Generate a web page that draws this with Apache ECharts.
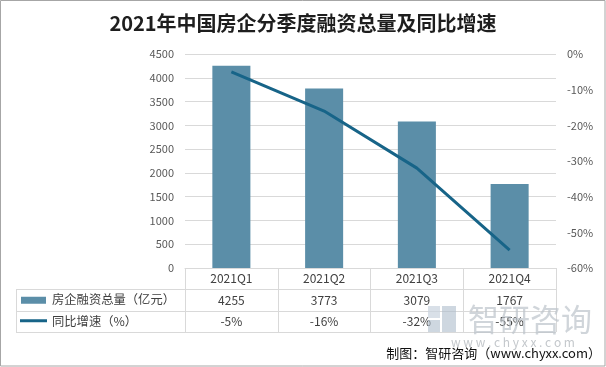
<!DOCTYPE html>
<html><head><meta charset="utf-8">
<script src="https://cdn.jsdelivr.net/npm/echarts@6/dist/echarts.min.js"></script>
<style>html,body{margin:0;padding:0;background:#fff}#c{width:606px;height:367px}</style>
</head><body><div id="c"></div>
<script>
var categories = ['2021Q1', '2021Q2', '2021Q3', '2021Q4'];
var financing = [4255, 3773, 3079, 1767];
var growth = [-5, -16, -32, -55];
var seriesNames = ['房企融资总量（亿元）', '同比增速（%）'];
var titleText = '2021年中国房企分季度融资总量及同比增速';
var footerText = '制图：智研咨询（www.chyxx.com）';

var FONT = '"Noto Sans CJK SC", "Noto Sans", sans-serif';
var BAR = '#5b8ea8', LINE = '#176488', GRID = '#d9d9d9', TXT = '#404040';

var chart = echarts.init(document.getElementById('c'), null, {renderer: 'canvas'});
var option = {
  animation: false,
  backgroundColor: '#fff',
  textStyle: {fontFamily: FONT},
  title: {text: titleText, left: 'center', top: 8,
    textStyle: {fontSize: 20, fontWeight: 'bold', color: '#1e1e1e', fontFamily: FONT}},
  grid: {left: 185, right: 50, top: 54, bottom: 99, containLabel: false},
  xAxis: {
    type: 'category', data: categories, boundaryGap: true,
    axisLine: {lineStyle: {color: GRID}},
    axisTick: {show: true, length: 64, lineStyle: {color: GRID}, interval: 0},
    axisLabel: {
      margin: 0, interval: 0, color: TXT, fontSize: 12, lineHeight: 21.5, fontFamily: FONT,
      formatter: function (v, i) { return v + '\n' + financing[i] + '\n' + growth[i] + '%'; }
    }
  },
  yAxis: [
    {type: 'value', min: 0, max: 4500, interval: 500,
      axisLine: {show: false}, axisTick: {show: false},
      axisLabel: {color: '#595959', fontSize: 11, margin: 11, fontFamily: FONT,
        formatter: function (v) { return String(v); }},
      splitLine: {lineStyle: {color: GRID}}},
    {type: 'value', min: -60, max: 0, interval: 10, position: 'right',
      axisLine: {show: false}, axisTick: {show: false},
      axisLabel: {color: '#595959', fontSize: 11, margin: 11, fontFamily: FONT,
        formatter: function (v) { return v + '%'; }},
      splitLine: {show: false}}
  ],
  series: [
    {name: seriesNames[0], type: 'bar', data: financing, barWidth: '41%',
      itemStyle: {color: BAR}},
    {name: seriesNames[1], type: 'line', yAxisIndex: 1, data: growth,
      symbol: 'none', lineStyle: {color: LINE, width: 3}, itemStyle: {color: LINE}}
  ]
};
chart.setOption(option);

// table frame built from axis positions
var xL = chart.convertToPixel({xAxisIndex: 0}, categories[0]);
var xR = chart.convertToPixel({xAxisIndex: 0}, categories[categories.length - 1]);
var half = (xR - xL) / (categories.length - 1) / 2;
var gridRight = xR + half;
var y0 = chart.convertToPixel({yAxisIndex: 0}, 0);
var r1 = y0 + 21, r2 = y0 + 42.5, r3 = y0 + 64;
var tLeft = 16;
var g = [];
[r1, r2, r3].forEach(function (y) {
  g.push({type: 'line', shape: {x1: tLeft, y1: Math.round(y) + 0.5, x2: gridRight, y2: Math.round(y) + 0.5},
    style: {stroke: GRID, lineWidth: 1}, silent: true});
});
g.push({type: 'line', shape: {x1: tLeft + 0.5, y1: Math.round(r1), x2: tLeft + 0.5, y2: Math.round(r3)},
  style: {stroke: GRID, lineWidth: 1}});
// legend keys
g.push({type: 'rect', shape: {x: 21, y: (r1 + r2) / 2 - 3, width: 25, height: 7}, style: {fill: BAR}});
g.push({type: 'line', shape: {x1: 20, y1: (r2 + r3) / 2 - 0.5, x2: 47, y2: (r2 + r3) / 2 - 0.5},
  style: {stroke: LINE, lineWidth: 3}});
g.push({type: 'text', x: 52, y: (r1 + r2) / 2, style: {text: seriesNames[0], fill: TXT, font: '12.3px ' + FONT, textVerticalAlign: 'middle'}});
g.push({type: 'text', x: 52, y: (r2 + r3) / 2, style: {text: seriesNames[1], fill: TXT, font: '12.3px ' + FONT, textVerticalAlign: 'middle'}});
// watermark
g.push({type: 'rect', shape: {x: 428, y: 306, width: 12, height: 12}, style: {fill: '#c9d3de', opacity: 0.7}, z: 100});
g.push({type: 'rect', shape: {x: 442, y: 306, width: 14, height: 26}, style: {fill: '#aebdcc', opacity: 0.6}, z: 100});
g.push({type: 'rect', shape: {x: 428, y: 320, width: 12, height: 12}, style: {fill: '#aebdcc', opacity: 0.6}, z: 100});
g.push({type: 'text', x: 530, y: 319, style: {text: '智研咨询', fill: '#bcc3ca', opacity: 0.7, font: '31px ' + FONT, textAlign: 'center', textVerticalAlign: 'middle'}, z: 100});
g.push({type: 'text', x: 513, y: 342, style: {text: 'w w w . c h y x x . c o m', fill: '#c4c8cc', font: '12px ' + FONT, textAlign: 'center', textVerticalAlign: 'middle'}, z: 100});
// footer
g.push({type: 'text', x: 601, y: 353, style: {text: footerText, fill: '#111', font: '13px ' + FONT, textAlign: 'right', textVerticalAlign: 'middle'}, z: 101});
// frame
g.push({type: 'rect', shape: {x: 0.5, y: 0.5, width: 604.5, height: 365.5}, style: {fill: 'none', stroke: '#a6a6a6', lineWidth: 1}});
chart.setOption({graphic: {elements: g}});
</script>
</body></html>
